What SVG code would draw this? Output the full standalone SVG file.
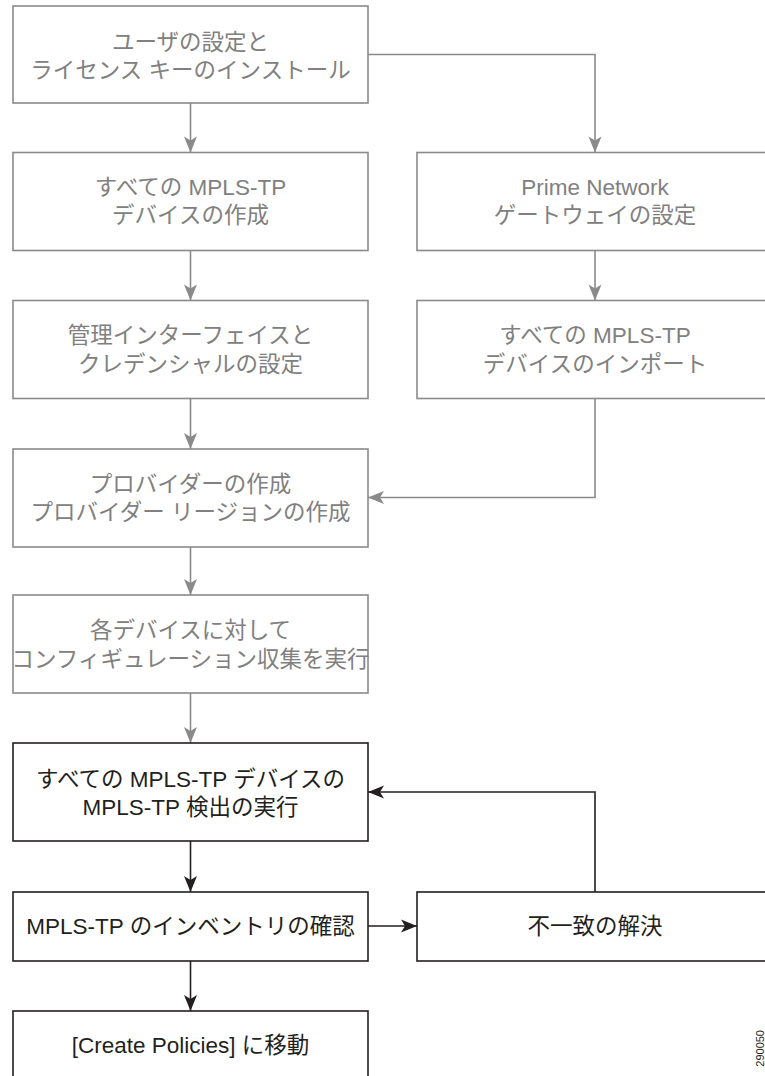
<svg xmlns="http://www.w3.org/2000/svg" width="765" height="1076" viewBox="0 0 765 1076">
<style>
text{font-family:"Liberation Sans","Noto Sans CJK JP",sans-serif;font-size:22.5px;text-anchor:middle}
.g rect{fill:#fff;stroke:#8a8a8a;stroke-width:1.6}
.g text{fill:#808080}
.k rect{fill:#fff;stroke:#231f20;stroke-width:1.6}
.k text{fill:#231f20}
.cg{fill:none;stroke:#8a8a8a;stroke-width:1.6;marker-end:url(#ag)}
.ck{fill:none;stroke:#231f20;stroke-width:1.6;marker-end:url(#ak)}
.fig{font-size:11px;text-anchor:end;fill:#231f20}
</style>
<defs>
<marker id="ag" markerUnits="userSpaceOnUse" markerWidth="20" markerHeight="16" viewBox="0 0 20 16" refX="18" refY="8" orient="auto"><path d="M18,8 L2,1.5 L6,8 L2,14.5 Z" fill="#8a8a8a"/></marker>
<marker id="ak" markerUnits="userSpaceOnUse" markerWidth="20" markerHeight="16" viewBox="0 0 20 16" refX="18" refY="8" orient="auto"><path d="M18,8 L2,1.5 L6,8 L2,14.5 Z" fill="#231f20"/></marker>
</defs>
<g id="connectors">
<path class="cg" d="M190.5,103 V152.5"/>
<path class="cg" d="M368,54.5 H595 V152.5"/>
<path class="cg" d="M190.5,250.5 V300.5"/>
<path class="cg" d="M595,250.5 V300.5"/>
<path class="cg" d="M190.5,398.5 V449"/>
<path class="cg" d="M595,398.5 V497.5 H368"/>
<path class="cg" d="M190.5,547 V595"/>
<path class="cg" d="M190.5,693 V743"/>
<path class="ck" d="M190.5,841 V892"/>
<path class="ck" d="M368,926 H417"/>
<path class="ck" d="M595,892 V792 H368"/>
<path class="ck" d="M190.5,961 V1011"/>
</g>
<g id="n1" class="g"><rect x="13" y="6" width="355" height="97"/><text x="190.5" y="50">ユーザの設定と</text><text x="190.5" y="78">ライセンス キーのインストール</text></g>
<g id="n2" class="g"><rect x="13" y="152.5" width="355" height="98"/><text x="190.5" y="195">すべての MPLS-TP</text><text x="190.5" y="223">デバイスの作成</text></g>
<g id="n3" class="g"><rect x="417" y="152.5" width="358" height="98"/><text x="595" y="195">Prime Network</text><text x="595" y="223">ゲートウェイの設定</text></g>
<g id="n4" class="g"><rect x="13" y="300.5" width="355" height="98"/><text x="190.5" y="343">管理インターフェイスと</text><text x="190.5" y="372">クレデンシャルの設定</text></g>
<g id="n5" class="g"><rect x="417" y="300.5" width="358" height="98"/><text x="595" y="343">すべての MPLS-TP</text><text x="595" y="372">デバイスのインポート</text></g>
<g id="n6" class="g"><rect x="13" y="449" width="355" height="98"/><text x="190.5" y="492">プロバイダーの作成</text><text x="190.5" y="520">プロバイダー リージョンの作成</text></g>
<g id="n7" class="g"><rect x="13" y="595" width="355" height="98"/><text x="190.5" y="638">各デバイスに対して</text><text x="190.5" y="667">コンフィギュレーション収集を実行</text></g>
<g id="n8" class="k"><rect x="13" y="743" width="355" height="98"/><text x="190.5" y="787">すべての MPLS-TP デバイスの</text><text x="190.5" y="815">MPLS-TP 検出の実行</text></g>
<g id="n9" class="k"><rect x="13" y="892" width="355" height="69"/><text x="190.5" y="934">MPLS-TP のインベントリの確認</text></g>
<g id="n10" class="k"><rect x="417" y="892" width="358" height="69"/><text x="595" y="934">不一致の解決</text></g>
<g id="n11" class="k"><rect x="13" y="1011" width="355" height="80"/><text x="190.5" y="1053">[Create Policies] に移動</text></g>
<text class="fig" transform="translate(764,1030) rotate(-90)">290050</text>
</svg>
